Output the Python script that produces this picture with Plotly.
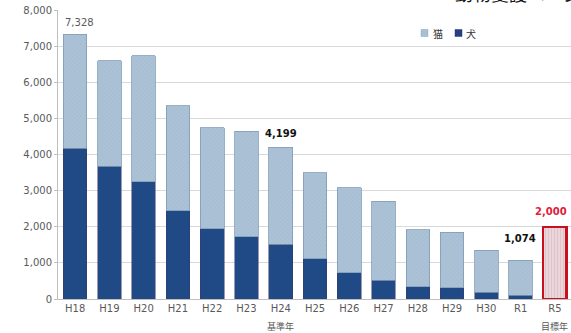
import plotly.graph_objects as go

categories = ["H18", "H19", "H20", "H21", "H22", "H23", "H24", "H25", "H26", "H27", "H28", "H29", "H30", "R1", "R5"]
dogs = [4180, 3680, 3240, 2440, 1940, 1730, 1510, 1110, 720, 515, 340, 315, 185, 100]
totals = [7328, 6590, 6730, 5350, 4740, 4640, 4199, 3490, 3075, 2700, 1920, 1845, 1350, 1074]
cats = [t - d for t, d in zip(totals, dogs)]
target_cat = "R5"
target_value = 2000

FONT = "DejaVu Sans, Verdana, sans-serif"
JP = "Noto Sans CJK JP"
GRAY = "#595959"
DOG_COLOR = "#1f4a86"
CAT_COLOR = "#a7bed3"

L, T, W, H = 58, 10, 513, 289


def px(xp):
    return (xp - L) / W


def py(yp):
    return 1 - (yp - T) / H


idx = list(range(len(categories)))
past_idx = idx[:-1]

fig = go.Figure()
fig.add_trace(go.Bar(
    x=past_idx, y=dogs, name="犬",
    marker=dict(color=DOG_COLOR, line=dict(color="#3d3466", width=0.5)),
))
fig.add_trace(go.Bar(
    x=past_idx, y=cats, name="猫",
    marker=dict(color=CAT_COLOR, line=dict(color="#7f9bb8", width=0.8),
                pattern=dict(shape="x", fgcolor="#c2d3e2", size=3, solidity=0.25, fillmode="overlay")),
))
fig.add_trace(go.Bar(
    x=[idx[-1]], y=[target_value], name="目標",
    marker=dict(color="#ead7dc", line=dict(color="#c8101e", width=2.5),
                pattern=dict(shape="|", fgcolor="#d8a8b2", size=3, solidity=0.3, fillmode="overlay")),
))

ann = []
ann.append(dict(x=0, y=totals[0], text="7,328", showarrow=False, xref="x", yref="y",
                yshift=12, xshift=4, font=dict(family=FONT, size=10, color=GRAY)))
ann.append(dict(x=6, y=totals[6], text="<b>4,199</b>", showarrow=False, xref="x", yref="y",
                yshift=14, font=dict(family=FONT, size=10, color="#111111")))
ann.append(dict(x=13, y=totals[13], text="<b>1,074</b>", showarrow=False, xref="x", yref="y",
                yshift=22, xshift=-1, font=dict(family=FONT, size=10, color="#111111")))
ann.append(dict(x=14, y=target_value, text="<b>2,000</b>", showarrow=False, xref="x", yref="y",
                yshift=15, xshift=-4, font=dict(family=FONT, size=10, color="#e0203a")))
ann.append(dict(x=6, y=0, text="基準年", showarrow=False, xref="x", yref="paper", yanchor="middle",
                yshift=-27, font=dict(family=JP, size=9, color=GRAY)))
ann.append(dict(x=14, y=0, text="目標年", showarrow=False, xref="x", yref="paper", yanchor="middle",
                yshift=-27, font=dict(family=JP, size=9, color=GRAY)))
# page title (cut off at the top edge, as in the reference)
ann.append(dict(x=px(453), y=py(6), xref="paper", yref="paper",
                xanchor="left", yanchor="bottom", yshift=-2, text="動物愛護ページ", showarrow=False,
                font=dict(family=JP, size=18, color="#111111")))
# compact legend
ann.append(dict(x=px(431), y=py(33), xref="paper", yref="paper", xanchor="left", yanchor="middle",
                text="猫", showarrow=False, font=dict(family=JP, size=10, color="#333333")))
ann.append(dict(x=px(464), y=py(33), xref="paper", yref="paper", xanchor="left", yanchor="middle",
                text="犬", showarrow=False, font=dict(family=JP, size=10, color="#333333")))
shapes = [
    dict(type="rect", xref="paper", yref="paper", x0=px(421), x1=px(428), y0=py(36.5), y1=py(29.5),
         fillcolor=CAT_COLOR, line=dict(color="#8ea8c2", width=0.5)),
    dict(type="rect", xref="paper", yref="paper", x0=px(455), x1=px(462), y0=py(36.5), y1=py(29.5),
         fillcolor="#2a3f80", line=dict(color="#2a3f80", width=0.5)),
]

fig.update_layout(
    width=571, height=333,
    margin=dict(l=L, r=571 - L - W, t=T, b=333 - T - H),
    paper_bgcolor="white", plot_bgcolor="white",
    barmode="stack", bargap=0.31,
    showlegend=False,
    annotations=ann, shapes=shapes,
    font=dict(family=FONT, size=10, color=GRAY),
)
fig.update_xaxes(
    tickmode="array", tickvals=idx, ticktext=categories,
    range=[-0.5, 14.47], showgrid=False, zeroline=False,
    showline=True, linecolor="#bfbfbf", linewidth=1,
    ticks="", tickfont=dict(family=FONT, size=10, color=GRAY),
)
fig.update_yaxes(
    range=[0, 8000], dtick=1000, tickformat=",",
    showgrid=True, gridcolor="#d9d9d9", gridwidth=1, zeroline=False,
    showline=True, linecolor="#bfbfbf", linewidth=1,
    ticks="outside", ticklen=3, tickcolor="#bfbfbf",
    tickfont=dict(family=FONT, size=10, color=GRAY),
)

fig.write_html("out.html")
